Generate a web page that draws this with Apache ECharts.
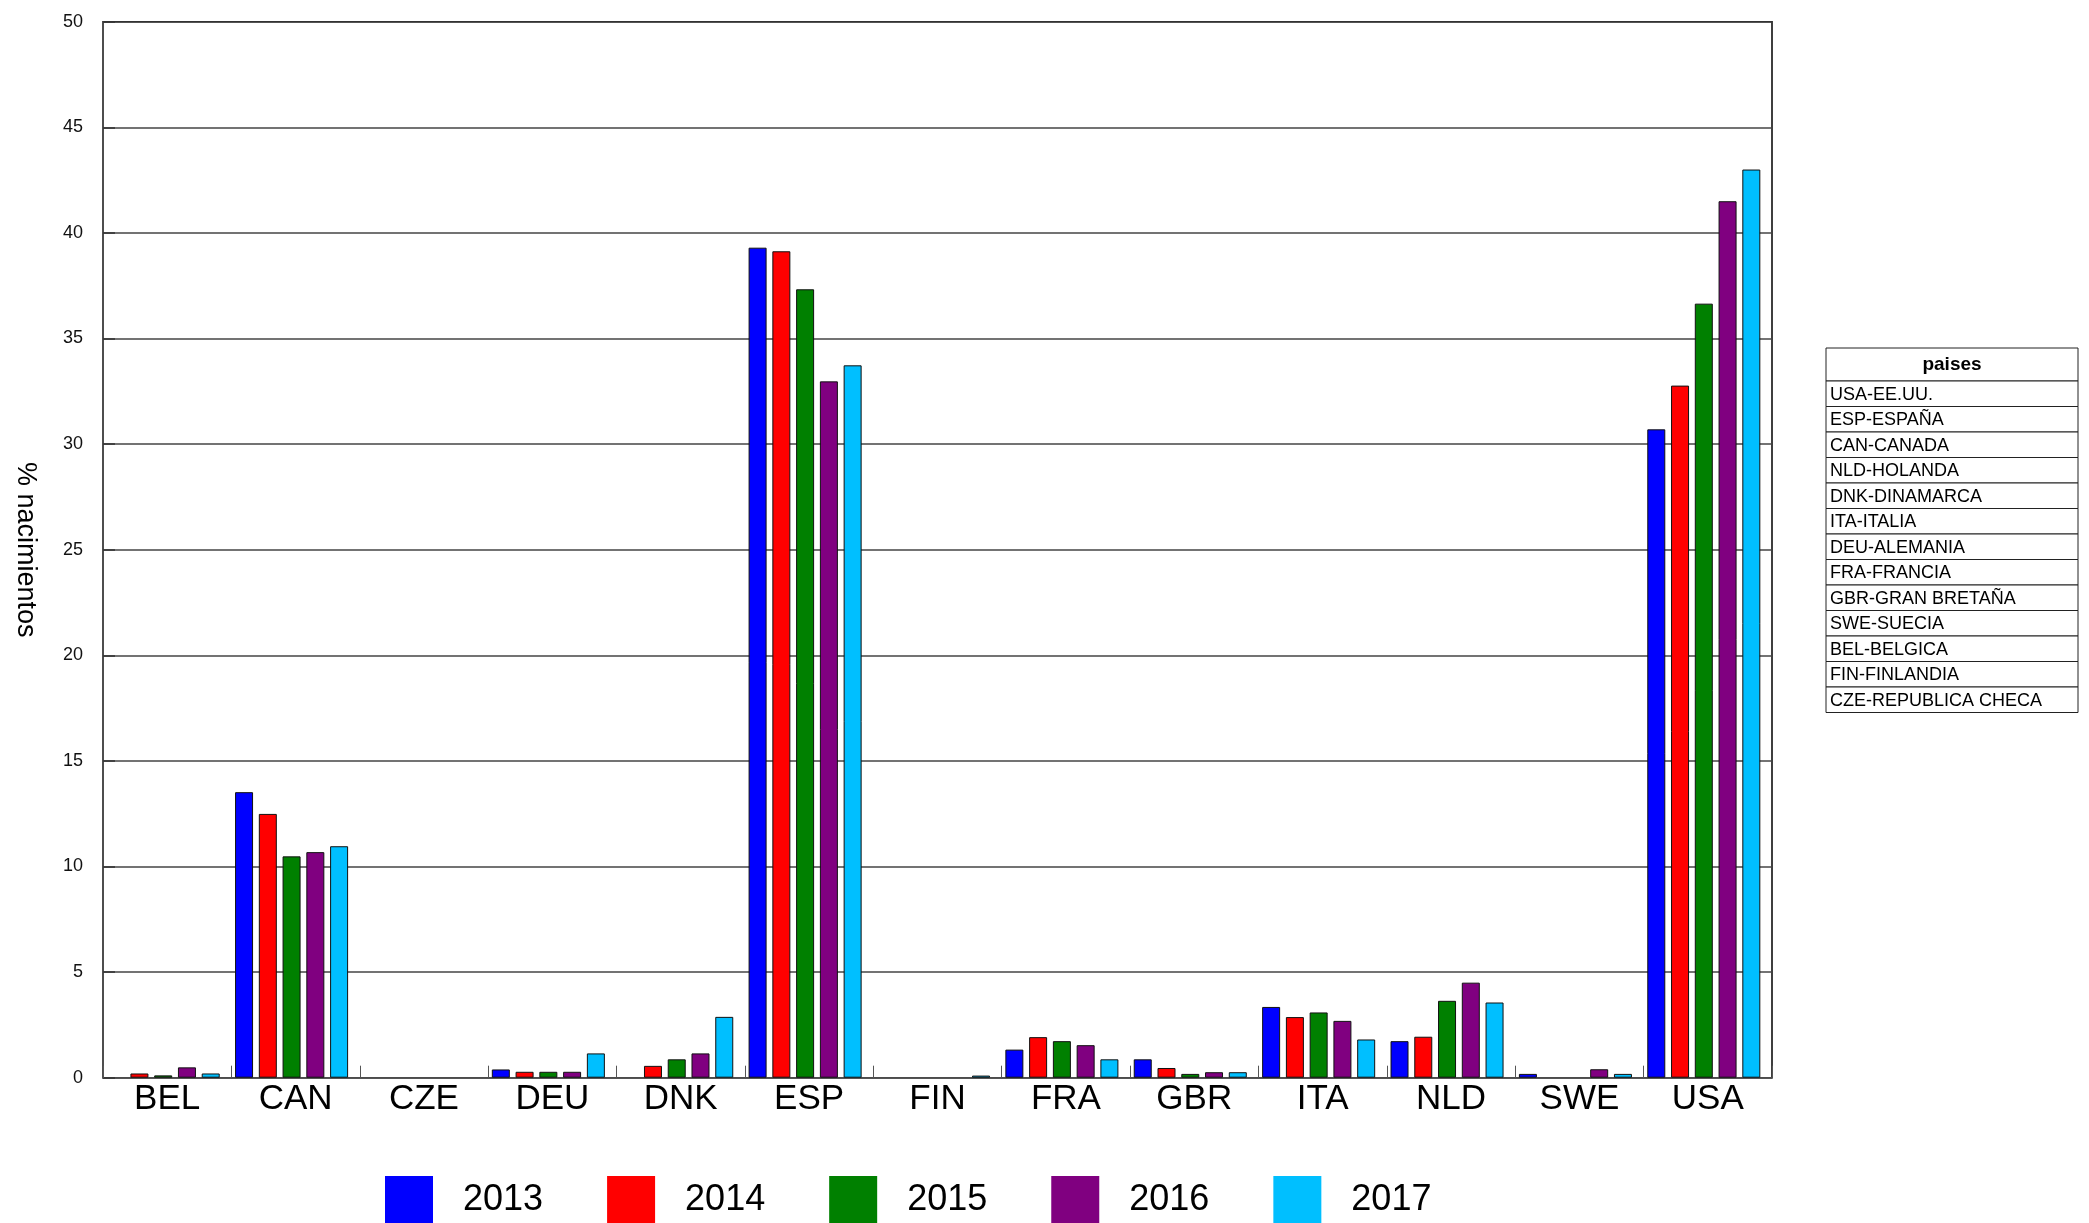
<!DOCTYPE html>
<html>
<head>
<meta charset="utf-8">
<script src="https://cdn.jsdelivr.net/npm/echarts@6/dist/echarts.min.js"></script>
<style>
html,body{margin:0;padding:0;background:#fff;}
#chart{width:2089px;height:1223px;}
</style>
</head>
<body>
<div id="chart"></div>
<script>
const categories = ['BEL','CAN','CZE','DEU','DNK','ESP','FIN','FRA','GBR','ITA','NLD','SWE','USA'];
const years = ['2013','2014','2015','2016','2017'];
const v2013 = [0, 13.52, 0, 0.39, 0, 39.3, 0, 1.33, 0.87, 3.35, 1.73, 0.18, 30.7];
const v2014 = [0.2, 12.49, 0, 0.28, 0.56, 39.13, 0, 1.92, 0.46, 2.87, 1.94, 0, 32.77];
const v2015 = [0.11, 10.48, 0, 0.28, 0.87, 37.33, 0, 1.73, 0.18, 3.09, 3.64, 0, 36.65];
const v2016 = [0.49, 10.68, 0, 0.28, 1.15, 32.97, 0, 1.54, 0.26, 2.69, 4.50, 0.40, 41.5];
const v2017 = [0.2, 10.96, 0, 1.15, 2.88, 33.73, 0.1, 0.87, 0.26, 1.81, 3.56, 0.18, 43.0];
const yTicks = [0,5,10,15,20,25,30,35,40,45,50];
const tableHeader = 'paises';
const tableRows = ['USA-EE.UU.','ESP-ESPAÑA','CAN-CANADA','NLD-HOLANDA','DNK-DINAMARCA','ITA-ITALIA','DEU-ALEMANIA','FRA-FRANCIA','GBR-GRAN BRETAÑA','SWE-SUECIA','BEL-BELGICA','FIN-FINLANDIA','CZE-REPUBLICA CHECA'];

const seriesValues = [v2013, v2014, v2015, v2016, v2017];
const colors = ['#0000FF','#FF0000','#008000','#800080','#00BFFF'];
const FONT = '"Liberation Sans", Arial, sans-serif';

// table graphic
const tX = 1826, tY = 348, tW = 252, hH = 33, rH = 25.5;
const graphics = [];
graphics.push({type:'rect', shape:{x:tX, y:tY, width:tW, height:hH}, style:{fill:'#fff', stroke:'#222', lineWidth:1}});
graphics.push({type:'text', x:tX + tW/2, y:tY + hH/2, style:{text:tableHeader, font:'bold 19px ' + FONT, fill:'#000', align:'center', verticalAlign:'middle'}});
tableRows.forEach((r, i) => {
  const y = tY + hH + i*rH;
  graphics.push({type:'rect', shape:{x:tX, y:y, width:tW, height:rH}, style:{fill:'#fff', stroke:'#222', lineWidth:1}});
  graphics.push({type:'text', x:tX + 4, y:y + rH/2 + 1, style:{text:r, font:'18px ' + FONT, fill:'#000', align:'left', verticalAlign:'middle'}});
});

const yMin = yTicks[0], yMax = yTicks[yTicks.length-1];
const chart = echarts.init(document.getElementById('chart'));
chart.setOption({
  backgroundColor:'#fff',
  animation:false,
  textStyle:{fontFamily:FONT},
  grid:[
    {left:103, right:317, top:21.7, bottom:145.3, show:true, borderColor:'#000', borderWidth:1.5, backgroundColor:'transparent'},
    {left:99, right:321, top:21.7, bottom:145.3, show:false}
  ],
  legend:{
    data: years,
    left:385, top:1176, padding:0,
    itemWidth:48, itemHeight:48, itemGap:64,
    icon:'rect',
    textStyle:{fontSize:36, color:'#000', fontFamily:FONT, padding:[0,0,0,25]},
    itemStyle:{borderWidth:0}
  },
  xAxis:[{
    type:'category', data:categories, gridIndex:0,
    axisLine:{show:true, lineStyle:{color:'#555', width:1.5}},
    axisTick:{show:true, inside:true, length:12, lineStyle:{color:'#555', width:1}},
    axisLabel:{fontSize:35, color:'#000', margin:4, fontFamily:FONT},
    splitLine:{show:false}
  },{
    type:'category', data:categories, gridIndex:1, show:false
  }],
  yAxis:[{
    type:'value', min:yMin, max:yMax, interval:5, gridIndex:0,
    name:'% nacimientos', nameLocation:'middle', nameRotate:-90, nameGap:64,
    nameTextStyle:{fontSize:27, color:'#000', fontFamily:FONT},
    axisLine:{show:true, lineStyle:{color:'#555', width:1.5}},
    axisTick:{show:true, inside:true, length:12, lineStyle:{color:'#333', width:1.5}},
    axisLabel:{fontSize:18, color:'#111', margin:20, fontFamily:FONT},
    splitLine:{show:true, lineStyle:{color:'#444', width:1.5}}
  },{
    type:'value', min:yMin, max:yMax, interval:5, gridIndex:1, show:false, splitLine:{show:false}
  }],
  series: years.map((y, i) => ({
    name:y, type:'bar', xAxisIndex:1, yAxisIndex:1,
    data:seriesValues[i].map(v => v === 0 ? '-' : v),
    barWidth:18, barGap:'32%',
    itemStyle:{color:colors[i], borderColor:'#111', borderWidth:1}
  })),
  graphic: graphics
});
</script>
</body>
</html>
